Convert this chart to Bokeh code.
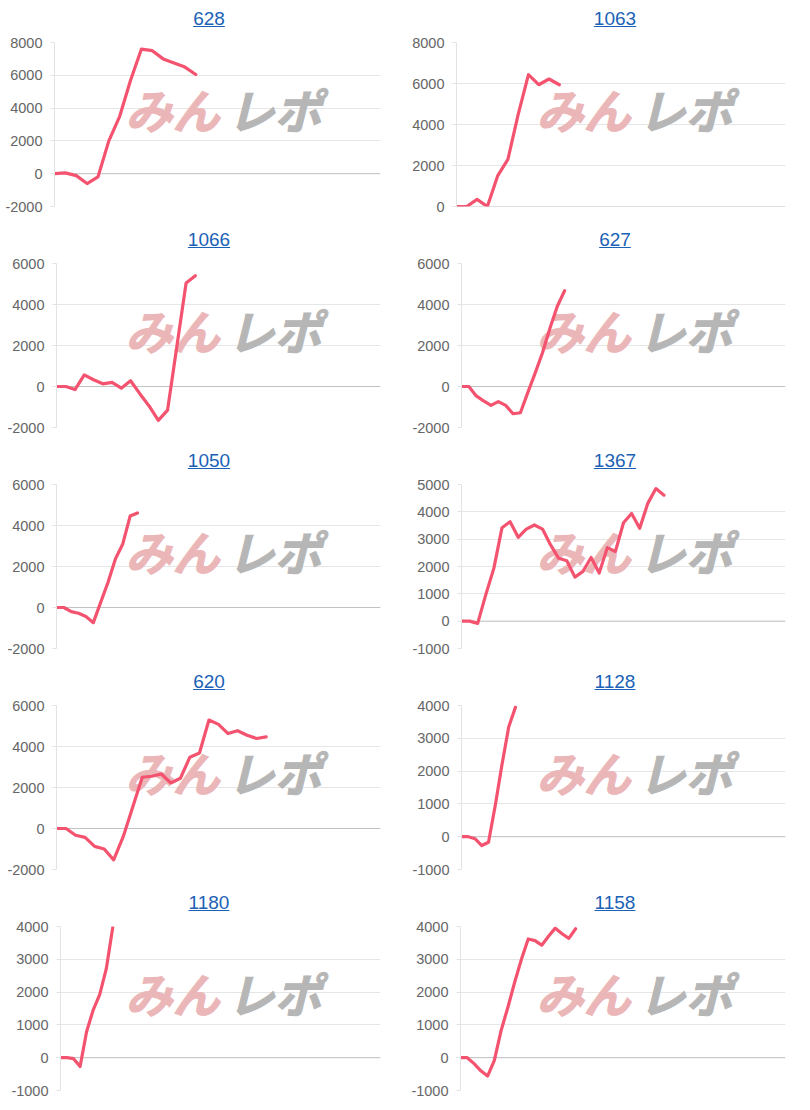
from bokeh.plotting import figure
from bokeh.layouts import column, row
from bokeh.models import Div, Range1d, FixedTicker, Span, Label, CustomJSTickFormatter
from bokeh.embed import file_html
from bokeh.resources import INLINE

# ---- data ----
titles = ["628", "1063", "1066", "627", "1050", "1367", "620", "1128", "1180", "1158"]

v628 = [0, 50, -120, -600, -200, 2000, 3500, 5700, 7600, 7500, 7000, 6750, 6500, 6050]
v1063 = [0, 0, 350, 0, 1490, 2300, 4490, 6430, 5940, 6220, 5940]
v1066 = [0, 0, -150, 570, 330, 130, 200, -80, 280, -350, -950, -1650, -1150, 1950, 5050, 5400]
v627 = [0, 0, -460, -700, -920, -740, -920, -1330, -1280, -300, 650, 1650, 2830, 3900, 4670]
v1050 = [0, 0, -200, -280, -440, -740, 250, 1230, 2370, 3100, 4460, 4610]
v1367 = [0, 0, -80, 970, 1940, 3420, 3640, 3070, 3370, 3520, 3370, 2790, 2300,
         2210, 1610, 1820, 2330, 1760, 2690, 2550, 3600, 3940, 3400, 4310, 4850, 4610]
v620 = [0, 0, -330, -430, -870, -1000, -1530, -400, 1050, 2500, 2550, 2660, 2220,
        2450, 3480, 3680, 5290, 5080, 4630, 4770, 4550, 4390, 4470]
v1128 = [0, 0, -60, -270, -170, 950, 2200, 3350, 3950]
v1180 = [0, 0, -30, -270, 800, 1450, 1920, 2700, 3970]
v1158 = [0, 0, -180, -400, -560, -80, 830, 1540, 2300, 3000, 3620, 3570, 3430,
         3700, 3950, 3780, 3640, 3930]

series = [v628, v1063, v1066, v627, v1050, v1367, v620, v1128, v1180, v1158]
x_counts = [30, 32, 35, 44, 44, 40, 34, 48, 49, 48]
y_mins = [-2000, 0, -2000, -2000, -2000, -1000, -2000, -1000, -1000, -1000]
y_maxs = [8000, 8000, 6000, 6000, 6000, 5000, 6000, 4000, 4000, 4000]
y_steps = [2000, 2000, 2000, 2000, 2000, 1000, 2000, 1000, 1000, 1000]
watermark_a = "みん"
watermark_b = "レポ"

# ---- style ----
CELL_W = 404
DIV_H = 32
FIG_H = 189
LINE_COLOR = "#f4536f"
FONT = "Liberation Sans"
left_borders = [54, 52, 56, 57, 56, 57, 56, 57, 60, 56]


def make_cell(i, col):
    lb = left_borders[i]
    p = figure(width=CELL_W, height=FIG_H, output_backend="svg", toolbar_location=None,
               x_range=Range1d(0, x_counts[i]), y_range=Range1d(y_mins[i], y_maxs[i]),
               x_axis_location=None,
               min_border_left=lb, min_border_right=(24 if col == 0 else 23),
               min_border_top=10, min_border_bottom=15)
    p.outline_line_color = None
    p.background_fill_color = "white"
    p.border_fill_color = "white"
    for g in p.xgrid:
        g.visible = False
    p.ygrid.grid_line_color = "#e6e6e6"
    p.ygrid.grid_line_width = 1
    ticks = list(range(y_mins[i], y_maxs[i] + 1, y_steps[i]))
    p.yaxis.ticker = FixedTicker(ticks=ticks)
    p.yaxis.formatter = CustomJSTickFormatter(code="return tick.toFixed(0);")
    p.yaxis.minor_tick_line_color = None
    p.yaxis.major_tick_out = 4
    p.yaxis.major_tick_in = 0
    p.yaxis.major_tick_line_color = "#e3e3e3"
    p.yaxis.axis_line_color = "#e3e3e3"
    p.yaxis.major_label_standoff = 8
    p.yaxis.major_label_text_font = FONT
    p.yaxis.major_label_text_font_size = "14.5px"
    p.yaxis.major_label_text_color = "#666666"

    zero = Span(location=0, dimension="width", line_color="#c2c2c2", line_width=1,
                level="underlay")
    p.add_layout(zero)

    # watermark sits at a fixed place in the cell
    shift = (133 if col == 0 else 140) - lb
    wa = Label(x=shift - 8, y=98, x_units="screen", y_units="screen", text=watermark_a,
               text_font="Noto Sans CJK JP", text_font_style="bold italic",
               text_font_size="47px", text_color="#ebb6b8", text_baseline="middle",
               text_outline_color="#ebb6b8", level="underlay")
    wb = Label(x=shift + 94, y=98, x_units="screen", y_units="screen", text=watermark_b,
               text_font="Noto Sans CJK JP", text_font_style="bold italic",
               text_font_size="47px", text_color="#b6b6b6", text_baseline="middle",
               text_outline_color="#b6b6b6", level="underlay")
    p.add_layout(wa)
    p.add_layout(wb)

    ys = series[i]
    xs = list(range(len(ys)))
    p.line(xs, ys, line_color=LINE_COLOR, line_width=3.2, line_join="round",
           line_cap="round")

    pl = 14 if col == 0 else 18
    html = (f'<div style="width:{CELL_W}px;box-sizing:border-box;text-align:center;'
            f'padding-top:8px;padding-left:{pl}px;font-family:\'Liberation Sans\',Arial,sans-serif;'
            f'font-size:19px;line-height:21px;">'
            f'<a href="#" style="color:#1b62b6;text-decoration:underline;">{titles[i]}</a></div>')
    d = Div(text=html, width=CELL_W, height=DIV_H, margin=0)
    return column(d, p, spacing=0, margin=0)


rows = []
for r in range(5):
    rows.append(row(make_cell(2 * r, 0), make_cell(2 * r + 1, 1), spacing=0, margin=0))
layout = column(*rows, spacing=0, margin=0)

open("out.html", "w").write(file_html(layout, INLINE))
